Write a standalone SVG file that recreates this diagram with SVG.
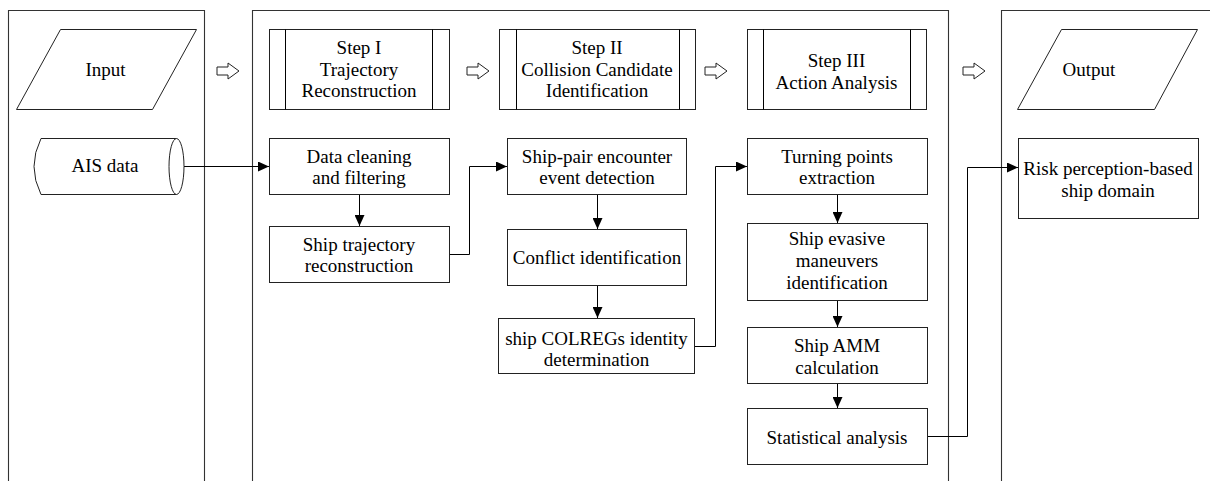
<svg xmlns="http://www.w3.org/2000/svg" width="1210" height="481" viewBox="0 0 1210 481">
<style>
.panel{fill:none;stroke:#333;stroke-width:1.1}
.box{fill:#fff;stroke:#222;stroke-width:1}
.hollow{fill:#fff;stroke:#222;stroke-width:1}
.conn{fill:none;stroke:#000;stroke-width:1}
text{font-family:"Liberation Serif","Times New Roman",serif;font-size:19px;fill:#000;text-anchor:middle}
</style>
<defs>
<marker id="ah" viewBox="0 0 11 10" refX="11" refY="5" markerWidth="11" markerHeight="10" markerUnits="userSpaceOnUse" orient="auto">
<path d="M0,0 L11,5 L0,10 Z" fill="#000"/>
</marker>
</defs>
<rect width="1210" height="481" fill="#fff"/>

<g id="panels">
<path class="panel" d="M8.5,490 V10.5 H204.5 V490"/>
<path class="panel" d="M252.5,490 V10.5 H948.5 V490"/>
<path class="panel" d="M1001.5,490 V10.5 H1215"/>
</g>

<g id="hollow-arrows">
<path class="hollow" d="M217,67 H228 V63 L239,71 L228,79 V75 H217 Z"/>
<path class="hollow" d="M467,67 H478 V63 L489,71 L478,79 V75 H467 Z"/>
<path class="hollow" d="M705,67 H716 V63 L727,71 L716,79 V75 H705 Z"/>
<path class="hollow" d="M963,67 H974 V63 L985,71 L974,79 V75 H963 Z"/>
</g>

<g id="connectors">
<path class="conn" d="M184,166.5 H269" marker-end="url(#ah)"/>
<path class="conn" d="M359.5,194 V226" marker-end="url(#ah)"/>
<path class="conn" d="M449,254.5 H469.5 V166.5 H507" marker-end="url(#ah)"/>
<path class="conn" d="M597.5,194 V229" marker-end="url(#ah)"/>
<path class="conn" d="M597.5,285 V318" marker-end="url(#ah)"/>
<path class="conn" d="M694,346.5 H715.5 V166.5 H747" marker-end="url(#ah)"/>
<path class="conn" d="M837.5,194 V223" marker-end="url(#ah)"/>
<path class="conn" d="M837.5,301 V327" marker-end="url(#ah)"/>
<path class="conn" d="M837.5,383 V408" marker-end="url(#ah)"/>
<path class="conn" d="M927,436.5 H967.5 V167.5 H1018" marker-end="url(#ah)"/>
</g>

<g id="input">
<path class="box" d="M60.5,29.5 H196.5 L152.5,109.5 H16.5 Z"/>
<text x="105.5" y="76">Input</text>
</g>

<g id="ais-data">
<path class="box" d="M176.5,138.5 H41 Q27,166.5 41,194.5 H176.5"/>
<ellipse class="box" cx="176.5" cy="166.5" rx="7.5" ry="28"/>
<text x="105" y="172">AIS data</text>
</g>

<g id="step1">
<rect class="box" x="269.5" y="29.5" width="180" height="80"/>
<path class="conn" d="M285.5,29.5 V109.5 M432.5,29.5 V109.5"/>
<text x="359" y="54">Step I</text>
<text x="359" y="75.5">Trajectory</text>
<text x="359" y="97">Reconstruction</text>
</g>

<g id="step2">
<rect class="box" x="499.5" y="29.5" width="196" height="80"/>
<path class="conn" d="M516.5,29.5 V109.5 M679.5,29.5 V109.5"/>
<text x="597" y="54">Step II</text>
<text x="597" y="75.5">Collision Candidate</text>
<text x="597" y="97">Identification</text>
</g>

<g id="step3">
<rect class="box" x="747.5" y="29.5" width="179" height="80"/>
<path class="conn" d="M763.5,29.5 V109.5 M910.5,29.5 V109.5"/>
<text x="836.5" y="67">Step III</text>
<text x="836.5" y="88.5">Action Analysis</text>
</g>

<g id="output">
<path class="box" d="M1061.5,29.5 H1197.5 L1154.5,109.5 H1017.5 Z"/>
<text x="1089" y="76">Output</text>
</g>

<g id="data-cleaning">
<rect class="box" x="269.5" y="138.5" width="180" height="56"/>
<text x="359" y="162.5">Data cleaning</text>
<text x="359" y="184">and filtering</text>
</g>

<g id="ship-trajectory">
<rect class="box" x="269.5" y="226.5" width="180" height="56"/>
<text x="359" y="250.5">Ship trajectory</text>
<text x="359" y="272">reconstruction</text>
</g>

<g id="ship-pair">
<rect class="box" x="507.5" y="138.5" width="179" height="56"/>
<text x="597" y="162.5">Ship-pair encounter</text>
<text x="597" y="184">event detection</text>
</g>

<g id="conflict">
<rect class="box" x="507.5" y="229.5" width="179" height="56"/>
<text x="597" y="263.5">Conflict identification</text>
</g>

<g id="colregs">
<rect class="box" x="498.5" y="318.5" width="196" height="55"/>
<text x="596.5" y="344.5">ship COLREGs identity</text>
<text x="596.5" y="366">determination</text>
</g>

<g id="turning">
<rect class="box" x="747.5" y="138.5" width="180" height="56"/>
<text x="837" y="162.5">Turning points</text>
<text x="837" y="184">extraction</text>
</g>

<g id="evasive">
<rect class="box" x="747.5" y="223.5" width="180" height="77"/>
<text x="837" y="245">Ship evasive</text>
<text x="837" y="267">maneuvers</text>
<text x="837" y="289">identification</text>
</g>

<g id="amm">
<rect class="box" x="747.5" y="327.5" width="180" height="56"/>
<text x="837" y="352">Ship AMM</text>
<text x="837" y="373.5">calculation</text>
</g>

<g id="statistical">
<rect class="box" x="747.5" y="408.5" width="180" height="56"/>
<text x="837" y="443.5">Statistical analysis</text>
</g>

<g id="risk">
<rect class="box" x="1018.5" y="138.5" width="180" height="80"/>
<text x="1108" y="175">Risk perception-based</text>
<text x="1108" y="197">ship domain</text>
</g>
</svg>
